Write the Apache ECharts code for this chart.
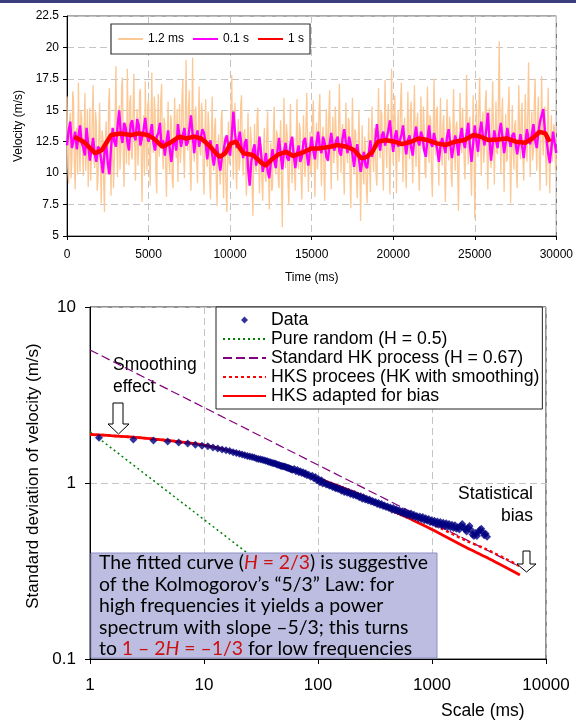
<!DOCTYPE html>
<html>
<head>
<meta charset="utf-8">
<script src="https://cdn.jsdelivr.net/npm/echarts@6.0.0/dist/echarts.min.js"></script>
<style>
html, body { margin: 0; padding: 0; background: #fff; }
#main { width: 576px; height: 722px; }
</style>
</head>
<body>
<div id="main"></div>
<script>
var FONT = "'Liberation Sans', Arial, sans-serif";

// ---- top chart: velocity series ----
// 1.2 ms record, read every 50 ms
var fineStep = 50;
var fineVel = [
  16.1, 10.5, 9.2, 13.9, 14.8, 9.6, 11.0, 16.5, 15.9, 10.8, 8.7, 12.9, 13.6, 9.9, 17.2, 12.2, 10.1, 15.0, 14.3, 11.5,
  9.8, 13.3, 16.4, 10.2, 12.0, 15.1, 8.9, 11.7, 15.2, 9.4, 11.3, 14.6, 17.0, 11.1, 10.4, 14.9, 13.9, 8.6, 9.5, 12.7,
  15.6, 10.9, 7.6, 13.4, 12.8, 9.1, 6.9, 12.3, 14.1, 10.6, 9.9, 15.3, 16.8, 11.4, 8.2, 13.0, 12.4, 8.8, 10.7, 14.5,
  18.5, 12.6, 9.7, 14.2, 15.4, 10.3, 11.9, 16.9, 17.6, 11.2, 8.9, 13.5, 14.0, 10.7, 18.3, 12.9, 10.6, 15.7, 16.2, 11.4,
  11.1, 14.8, 17.9, 12.3, 9.4, 13.6, 15.1, 10.6, 12.2, 16.4, 16.7, 11.8, 7.7, 12.1, 14.6, 9.8, 17.3, 13.2, 10.2, 15.4,
  15.8, 11.0, 9.0, 14.1, 18.0, 12.7, 11.6, 16.1, 14.9, 10.1, 8.4, 13.8, 16.3, 11.3, 12.5, 15.9, 17.1, 12.0, 10.3, 14.4,
  13.9, 10.4, 8.1, 12.8, 15.7, 11.0, 10.0, 14.6, 14.2, 9.5, 8.8, 13.0, 16.0, 12.4, 11.2, 15.1, 9.3, 12.2, 15.5, 10.8,
  12.1, 15.9, 17.4, 11.5, 9.6, 14.0, 19.0, 13.3, 11.8, 15.2, 16.6, 10.4, 8.6, 13.1, 19.2, 12.7, 10.9, 14.7, 15.3, 11.3,
  9.2, 13.5, 16.9, 11.9, 11.4, 15.6, 14.7, 10.2, 8.3, 12.6, 15.9, 11.5, 10.5, 14.9, 13.8, 9.4, 7.9, 12.3, 16.1, 11.7,
  10.2, 13.6, 14.4, 9.8, 7.4, 12.0, 13.1, 10.3, 9.1, 14.2, 15.0, 11.1, 8.0, 12.9, 12.6, 8.8, 6.9, 11.4, 14.1, 10.7,
  11.3, 15.0, 17.8, 12.5, 9.5, 13.9, 15.6, 11.0, 8.7, 12.4, 14.3, 10.2, 11.0, 15.4, 16.2, 12.1, 9.8, 13.1, 13.5, 10.6,
  8.2, 12.0, 14.8, 10.9, 9.6, 13.7, 12.7, 9.0, 6.6, 11.2, 13.9, 10.5, 10.1, 14.4, 15.2, 11.6, 8.4, 12.1, 12.3, 9.4,
  7.8, 11.6, 13.6, 9.7, 9.3, 13.2, 14.9, 10.8, 7.1, 10.9, 12.4, 8.6, 8.9, 12.8, 15.3, 11.4, 9.9, 13.4, 13.0, 9.5,
  8.8, 12.5, 14.2, 9.6, 5.7, 11.3, 16.0, 12.0, 10.4, 13.9, 13.1, 9.3, 7.5, 11.8, 15.5, 11.1, 9.2, 12.6, 12.8, 9.9,
  8.6, 12.3, 15.9, 11.0, 10.3, 14.0, 13.4, 9.7, 7.9, 11.6, 14.6, 10.5, 9.7, 13.8, 16.4, 12.2, 8.5, 11.9, 13.3, 10.0,
  10.6, 14.1, 15.8, 11.4, 8.1, 12.2, 14.0, 10.3, 11.5, 15.0, 16.3, 12.1, 9.0, 12.9, 13.7, 10.4, 7.8, 11.8, 15.1, 12.4,
  10.9, 14.5, 16.6, 12.0, 8.7, 12.5, 14.5, 10.8, 11.7, 15.3, 15.4, 11.2, 9.4, 13.6, 17.1, 12.9, 10.0, 13.3, 13.9, 10.6,
  8.3, 12.2, 15.6, 11.8, 10.8, 14.4, 14.1, 9.9, 7.2, 11.5, 16.0, 12.3, 9.9, 13.5, 13.2, 9.6, 8.0, 12.0, 15.0, 11.1,
  6.2, 10.6, 13.8, 9.9, 9.1, 12.9, 12.2, 8.9, 7.6, 11.3, 14.4, 10.5, 8.5, 12.4, 15.3, 11.5, 10.1, 13.6, 12.9, 9.7,
  9.0, 13.2, 16.8, 12.4, 11.2, 15.0, 14.7, 10.5, 8.6, 12.8, 17.4, 13.1, 10.4, 14.2, 15.5, 11.6, 8.3, 12.5, 18.3, 13.4,
  10.7, 14.6, 16.2, 11.8, 8.4, 12.7, 15.0, 10.9, 11.8, 15.6, 17.2, 12.6, 9.3, 13.4, 14.4, 10.5, 8.8, 12.9, 16.5, 12.2,
  11.1, 14.9, 15.7, 11.3, 9.2, 13.6, 17.0, 12.8, 10.5, 14.0, 14.8, 10.6, 8.6, 12.7, 16.1, 12.4, 11.9, 15.3, 13.7, 10.1,
  9.6, 13.8, 16.9, 12.5, 10.8, 14.6, 14.2, 10.0, 8.1, 12.3, 17.5, 13.1, 11.4, 15.0, 15.3, 11.2, 9.0, 13.0, 16.0, 12.0,
  10.6, 13.9, 14.6, 10.3, 7.7, 11.9, 15.9, 12.2, 11.0, 14.5, 13.8, 9.9, 8.9, 12.8, 16.7, 12.6, 10.2, 13.7, 14.1, 10.4,
  7.0, 11.8, 16.4, 12.7, 11.6, 15.2, 15.1, 11.0, 9.5, 13.6, 17.8, 13.0, 10.7, 14.1, 14.5, 10.6, 8.2, 12.4, 16.2, 12.1,
  6.4, 11.2, 15.8, 12.3, 11.3, 15.1, 17.6, 13.2, 9.8, 13.9, 14.9, 10.8, 12.0, 15.7, 16.6, 12.0, 8.7, 12.6, 15.2, 11.5,
  10.4, 14.3, 17.3, 12.9, 9.1, 13.0, 15.7, 11.7, 11.5, 15.5, 20.5, 13.8, 10.0, 13.9, 16.0, 11.9, 8.5, 12.5, 14.7, 10.9,
  11.2, 15.0, 16.9, 12.2, 7.6, 11.4, 15.4, 12.0, 10.3, 13.8, 14.2, 10.1, 8.8, 12.9, 17.0, 13.1, 11.1, 14.6, 15.6, 11.3,
  9.4, 13.1, 16.3, 12.6, 10.9, 14.7, 18.8, 13.5, 9.7, 13.3, 14.9, 11.0, 11.8, 15.6, 17.5, 12.8, 10.2, 14.0, 16.1, 11.6,
  8.6, 12.9, 17.7, 13.3, 11.4, 14.9, 15.3, 11.1, 9.0, 13.2, 16.8, 12.4, 8.4, 12.3, 14.6, 10.9, 10.8, 13.9, 13.4, 10.2,
  12.0
];

// 0.1 s averages, read every 100 ms
var midStep = 100;
var midVel = [
  12.2, 13.4, 14.1, 12.0, 12.6, 13.3, 11.9, 12.9, 13.8, 12.4,
  12.0, 11.4, 13.6, 12.3, 11.0, 11.8, 12.8, 11.5, 10.9, 12.1,
  11.9, 11.0, 10.0, 11.6, 12.4, 10.8, 9.9, 12.0, 13.6, 12.5,
  12.1, 13.7, 15.0, 13.1, 12.4, 14.0, 13.6, 12.5, 11.8, 13.9,
  14.2, 13.0, 12.6, 14.3, 13.8, 12.2, 12.1, 13.5, 14.4, 13.0,
  12.5, 13.1, 13.9, 12.4, 11.8, 12.9, 13.2, 14.0, 12.0, 12.6,
  11.4, 12.5, 13.4, 11.9, 10.9, 12.2, 12.7, 11.8, 13.9, 12.9,
  12.1, 13.0, 13.6, 12.2, 12.4, 13.5, 14.6, 13.1, 11.6, 12.8,
  13.4, 12.1, 12.0, 13.5, 13.2, 12.4, 11.1, 12.2, 12.6, 11.5,
  10.6, 11.5, 12.3, 11.0, 10.2, 11.3, 11.8, 12.6, 13.0, 12.0,
  11.4, 13.0, 14.9, 13.2, 12.0, 12.6, 13.3, 12.1, 11.2, 12.4,
  12.7, 10.4, 9.0, 10.9, 11.8, 12.3, 10.6, 11.4, 12.9, 11.6,
  10.1, 10.8, 11.6, 10.2, 9.6, 10.9, 11.9, 11.0, 10.4, 11.7,
  12.8, 11.5, 10.3, 11.7, 12.4, 11.2, 11.0, 12.3, 12.9, 11.4,
  10.4, 11.6, 12.2, 10.9, 11.3, 12.5, 12.8, 11.5, 10.6, 11.9,
  12.9, 11.8, 11.1, 12.4, 13.3, 12.0, 11.6, 12.9, 12.4, 11.3,
  11.0, 12.3, 13.2, 12.1, 11.8, 12.6, 12.9, 11.7, 11.4, 12.8,
  13.5, 12.4, 11.6, 12.9, 12.8, 11.5, 10.5, 11.6, 12.3, 11.1,
  10.1, 10.9, 11.7, 10.6, 10.4, 11.5, 12.6, 11.3, 11.2, 12.5,
  13.9, 12.6, 11.8, 13.0, 13.3, 12.2, 12.1, 13.4, 14.2, 12.7,
  11.7, 12.9, 13.4, 12.1, 12.0, 13.0, 13.8, 12.5, 11.5, 12.6,
  13.0, 12.0, 11.4, 12.8, 13.7, 12.6, 12.2, 13.3, 12.9, 11.8,
  11.3, 12.7, 13.8, 12.4, 12.1, 13.2, 13.1, 11.9, 10.9, 12.2,
  12.8, 12.2, 11.6, 12.9, 13.5, 12.3, 11.2, 12.1, 13.0, 12.4,
  11.4, 12.8, 13.6, 12.5, 12.0, 13.1, 14.0, 12.2, 10.9, 12.3,
  13.8, 12.6, 11.7, 13.2, 14.1, 12.9, 12.2, 13.4, 14.8, 12.7,
  11.0, 12.3, 13.4, 12.6, 12.0, 13.2, 14.0, 12.8, 11.6, 12.5,
  13.6, 12.7, 12.1, 13.0, 13.2, 12.4, 11.5, 12.3, 13.1, 12.2,
  11.2, 12.4, 13.5, 12.7, 12.3, 13.1, 13.9, 12.6, 12.0, 13.2,
  14.1, 14.6, 15.1, 13.4, 12.7, 11.6, 10.8, 12.0, 13.3, 12.4,
  11.6
];

// 1 s moving average
var slowTime = [451, 1015, 1737, 2143, 2707, 3271, 3947, 4398, 4962, 5300,
  5865, 6429, 6880, 7331, 7782, 8233, 8684, 9135, 9361, 9700,
  10038, 10376, 10602, 10827, 11391, 11955, 12180, 12519, 12970, 13421,
  13872, 14549, 15000, 15451, 16128, 16579, 17143, 17594, 18045, 18383,
  18722, 19060, 19511, 20075, 20526, 21090, 21541, 22105, 22669, 23233,
  23797, 24361, 24925, 25376, 25827, 26391, 26955, 27519, 28083, 28534,
  28985, 29323, 29594];
var slowVel = [12.89, 12.5, 11.58, 11.84, 13.03, 13.16, 13.03, 13.16, 13.03, 12.76,
  12.1, 12.5, 12.9, 12.76, 12.9, 12.76, 12.24, 11.58, 11.3, 11.58,
  12.37, 12.5, 11.97, 11.58, 11.45, 10.79, 10.6, 11.05, 11.5, 11.7,
  11.37, 11.7, 11.97, 11.97, 12.1, 12.24, 12.1, 11.84, 11.18, 11.3,
  11.7, 12.5, 12.63, 12.5, 12.31, 12.5, 12.76, 12.63, 12.37, 12.24,
  12.5, 12.63, 13.03, 12.9, 12.63, 12.68, 12.76, 12.5, 12.42, 12.76,
  13.29, 13.16, 12.5];

var velTicks = [5, 22.5, 2.5];      // min, max, step
var timeTicks = [0, 30000, 5000];

// ---- bottom chart: standard deviation vs scale ----
var dataScale = [1.2, 2.4, 3.6, 4.8, 6, 7.2, 8.4, 9.6, 10.8, 12,
  13.2, 14.4, 15.6, 16.8, 18, 19.2, 20.4, 21.6, 22.8, 24,
  25.2, 26.4, 27.6, 28.8, 30, 31.2, 32.4, 33.6, 34.8, 36,
  37.2, 38.4, 39.6, 40.8, 42, 43.2, 44.4, 45.6, 46.8, 48,
  49.2, 50.4, 51.6, 52.8, 54, 55.2, 56.4, 57.6, 58.8, 60,
  62, 64, 66, 68, 70, 72, 74, 76, 78, 80,
  83, 86, 89, 92, 95, 98, 101, 104, 107, 110,
  114, 118, 122, 126, 130, 134, 138, 142, 146, 150,
  155, 160, 165, 170, 175, 180, 186, 192, 198, 204,
  210, 216, 223, 230, 237, 244, 251, 259, 267, 275,
  283, 292, 301, 310, 320, 330, 340, 350, 361, 372,
  383, 395, 407, 419, 432, 445, 458, 472, 486, 501,
  516, 532, 548, 564, 581, 599, 617, 635, 654, 674,
  694, 715, 737, 759, 782, 805, 830, 855, 880, 907,
  934, 962, 991, 1020, 1050, 1082, 1115, 1148, 1183, 1218,
  1255, 1292, 1331, 1371, 1412, 1455, 1498, 1543, 1590, 1637,
  1686, 1737, 1789, 1843, 1898, 1955, 2014, 2074, 2136, 2200,
  2266, 2334, 2404, 2476, 2551, 2627, 2706, 2787, 2871, 2957,
  3040];
var dataSigma = [1.81, 1.765, 1.745, 1.72, 1.70, 1.675, 1.65, 1.63, 1.615, 1.59,
  1.57, 1.55, 1.535, 1.52, 1.495, 1.48, 1.465, 1.45, 1.44, 1.425,
  1.415, 1.405, 1.395, 1.38, 1.37, 1.365, 1.355, 1.345, 1.34, 1.33,
  1.315, 1.31, 1.30, 1.295, 1.29, 1.28, 1.27, 1.265, 1.255, 1.25,
  1.245, 1.24, 1.235, 1.225, 1.22, 1.215, 1.21, 1.20, 1.195, 1.19,
  1.20, 1.165, 1.185, 1.15, 1.165, 1.14, 1.15, 1.125, 1.135, 1.105,
  1.115, 1.085, 1.10, 1.065, 1.08, 1.035, 1.05, 1.01, 1.035, 0.995,
  1.005, 0.98, 0.985, 0.965, 0.97, 0.95, 0.955, 0.935, 0.94, 0.925,
  0.93, 0.905, 0.915, 0.89, 0.90, 0.88, 0.89, 0.865, 0.875, 0.855,
  0.865, 0.845, 0.85, 0.83, 0.84, 0.815, 0.83, 0.805, 0.815, 0.795,
  0.805, 0.785, 0.79, 0.775, 0.78, 0.76, 0.77, 0.75, 0.76, 0.74,
  0.745, 0.73, 0.735, 0.72, 0.725, 0.705, 0.72, 0.70, 0.71, 0.69,
  0.70, 0.68, 0.69, 0.67, 0.685, 0.66, 0.67, 0.655, 0.67, 0.645,
  0.66, 0.64, 0.65, 0.63, 0.645, 0.625, 0.64, 0.615, 0.63, 0.61,
  0.625, 0.60, 0.615, 0.595, 0.61, 0.585, 0.605, 0.58, 0.60, 0.575,
  0.595, 0.57, 0.59, 0.565, 0.585, 0.56, 0.58, 0.555, 0.575, 0.55,
  0.56, 0.545, 0.57, 0.585, 0.56, 0.545, 0.53, 0.555, 0.57, 0.54,
  0.51, 0.50, 0.52, 0.50, 0.525, 0.54, 0.55, 0.525, 0.505, 0.515,
  0.495];

var randomScale = [1, 384];
var randomSigma = [1.96, 0.1];
var hkScale = [1, 5600];
var hkSigma = [5.7, 0.34];
var hksScale = [1, 2.4, 5, 10, 22, 50, 100, 220, 400, 680, 1000, 2000, 3000, 6000];
var hksSigma = [1.89, 1.82, 1.74, 1.64, 1.46, 1.25, 1.06, 0.875, 0.735, 0.645, 0.585, 0.47, 0.42, 0.335];
var biasScale = [1, 2.4, 5, 10, 22, 50, 100, 220, 400, 680, 1000, 2000, 3000, 5900];
var biasSigma = [1.89, 1.82, 1.74, 1.64, 1.46, 1.25, 1.06, 0.87, 0.72, 0.615, 0.545, 0.43, 0.378, 0.30];

function pairsStep(vals, step) {
  return vals.map(function (v, i) { return [i * step, v]; });
}
function pairs(xs, ys) {
  return xs.map(function (x, i) { return [x, ys[i]]; });
}
function plain(v) { return String(+v.toPrecision(6)); }

var chart = echarts.init(document.getElementById('main'), null, { renderer: 'canvas' });

var gridLine = { show: true, lineStyle: { color: '#c4c4c4', type: [7, 4], width: 1 } };
var noMark = { opacity: 0 };

var option = {
  animation: false,
  backgroundColor: '#fff',
  textStyle: { fontFamily: FONT },
  grid: [
    { left: 67, top: 16, width: 490, height: 220, show: true, borderColor: '#555', borderWidth: 1, backgroundColor: 'transparent' },
    { left: 90, top: 307, width: 456, height: 352, show: true, borderColor: '#222', borderWidth: 1, backgroundColor: 'transparent' }
  ],
  xAxis: [
    {
      gridIndex: 0, type: 'value', min: timeTicks[0], max: timeTicks[1], interval: timeTicks[2],
      name: 'Time (ms)', nameLocation: 'middle', nameGap: 36,
      nameTextStyle: { fontSize: 12, color: '#000', fontFamily: FONT },
      axisLine: { lineStyle: { color: '#000' } },
      axisTick: { inside: false, length: 4, lineStyle: { color: '#000' } },
      axisLabel: { fontSize: 12, color: '#000', margin: 13, fontFamily: FONT, formatter: plain },
      splitLine: gridLine
    },
    {
      gridIndex: 1, type: 'log', logBase: 10, min: 1, max: 10000,
      axisLine: { lineStyle: { color: '#000' } },
      axisTick: { inside: false, length: 5, lineStyle: { color: '#000' } },
      axisLabel: { fontSize: 17, color: '#000', margin: 18, fontFamily: FONT, formatter: plain },
      minorTick: { show: false },
      splitLine: gridLine
    }
  ],
  yAxis: [
    {
      gridIndex: 0, type: 'value', min: velTicks[0], max: velTicks[1], interval: velTicks[2],
      name: 'Velocity (m/s)', nameLocation: 'middle', nameGap: 42, nameRotate: 90,
      nameTextStyle: { fontSize: 12, color: '#000', fontFamily: FONT },
      axisLine: { show: true, lineStyle: { color: '#000' } },
      axisTick: { show: true, inside: false, length: 4, lineStyle: { color: '#000' } },
      axisLabel: { fontSize: 12, color: '#000', margin: 8, fontFamily: FONT, formatter: plain },
      splitLine: gridLine
    },
    {
      gridIndex: 1, type: 'log', logBase: 10, min: 0.1, max: 10,
      axisLine: { show: true, lineStyle: { color: '#000' } },
      axisTick: { show: true, inside: false, length: 5, lineStyle: { color: '#000' } },
      axisLabel: { fontSize: 17, color: '#000', margin: 14, fontFamily: FONT, formatter: plain },
      splitLine: gridLine
    }
  ],
  legend: [
    {
      left: 111, top: 24, orient: 'horizontal',
      padding: [9, 6, 9, 6], itemGap: 8, itemWidth: 25, itemHeight: 10,
      borderColor: '#333', borderWidth: 1.2, backgroundColor: '#fff',
      textStyle: { fontSize: 12, color: '#000', fontFamily: FONT },
      data: [
        { name: '1.2 ms', itemStyle: noMark },
        { name: '0.1 s', itemStyle: noMark },
        { name: '1 s', itemStyle: noMark }
      ]
    },
    {
      left: 216, top: 307, orient: 'vertical',
      padding: [4, 3, 4, 6], itemGap: 1, itemWidth: 43, itemHeight: 14,
      borderColor: '#222', borderWidth: 1, backgroundColor: '#fff',
      textStyle: { fontSize: 17.7, lineHeight: 16, color: '#000', fontFamily: FONT },
      data: [
        { name: 'Data', icon: 'path://M0,0M43,14M21.5,3.5L25,7L21.5,10.5L18,7Z' },
        { name: 'Pure random (H = 0.5)', itemStyle: noMark },
        { name: 'Standard HK process (H = 0.67)', itemStyle: noMark },
        { name: 'HKS procees (HK with smoothing)', itemStyle: noMark },
        { name: 'HKS adapted for bias', itemStyle: noMark }
      ]
    }
  ],
  series: [
    {
      name: '1.2 ms', type: 'line', xAxisIndex: 0, yAxisIndex: 0, symbol: 'none',
      data: pairsStep(fineVel, fineStep),
      lineStyle: { color: '#fcc896', width: 1.3 }, itemStyle: { color: '#fcc896' }, z: 2
    },
    {
      name: '0.1 s', type: 'line', xAxisIndex: 0, yAxisIndex: 0, symbol: 'none',
      data: pairsStep(midVel, midStep),
      lineStyle: { color: '#ff00ff', width: 2.4 }, itemStyle: { color: '#ff00ff' }, z: 3
    },
    {
      name: '1 s', type: 'line', xAxisIndex: 0, yAxisIndex: 0, symbol: 'none',
      data: pairs(slowTime, slowVel),
      lineStyle: { color: '#ff0000', width: 4.5 }, itemStyle: { color: '#ff0000' }, z: 4
    },
    {
      name: 'Pure random (H = 0.5)', type: 'line', xAxisIndex: 1, yAxisIndex: 1, symbol: 'none',
      data: pairs(randomScale, randomSigma),
      lineStyle: { color: '#008000', width: 1.5, type: [2, 3] }, itemStyle: { color: '#008000' }, z: 2
    },
    {
      name: 'Standard HK process (H = 0.67)', type: 'line', xAxisIndex: 1, yAxisIndex: 1, symbol: 'none',
      data: pairs(hkScale, hkSigma),
      lineStyle: { color: '#800080', width: 1.2, type: [9, 4] }, itemStyle: { color: '#800080' }, z: 2
    },
    {
      name: 'HKS procees (HK with smoothing)', type: 'line', xAxisIndex: 1, yAxisIndex: 1, symbol: 'none',
      data: pairs(hksScale, hksSigma), smooth: 0.3,
      lineStyle: { color: '#ff0000', width: 2.5, type: [3, 3] }, itemStyle: { color: '#ff0000' }, z: 3
    },
    {
      name: 'HKS adapted for bias', type: 'line', xAxisIndex: 1, yAxisIndex: 1, symbol: 'none',
      data: pairs(biasScale, biasSigma), smooth: 0.3,
      lineStyle: { color: '#ff0000', width: 2.8 }, itemStyle: { color: '#ff0000' }, z: 3
    },
    {
      name: 'Data', type: 'scatter', xAxisIndex: 1, yAxisIndex: 1,
      symbol: 'diamond', symbolSize: 8,
      data: pairs(dataScale, dataSigma),
      itemStyle: { color: '#000080' }, z: 5
    }
  ],
  graphic: [
    { type: 'rect', left: 0, top: 0, shape: { width: 576, height: 3 }, style: { fill: '#3c3f7e' } },
    { type: 'text', x: 33, y: 476, rotation: Math.PI / 2,
      style: { text: 'Standard deviation of velocity (m/s)', font: '17px ' + FONT, fill: '#000', align: 'center', verticalAlign: 'middle' } },
    { type: 'text', left: 113, top: 356, style: { text: 'Smoothing', font: '17.5px ' + FONT, fill: '#000' } },
    { type: 'text', left: 113, top: 378, style: { text: 'effect', font: '17.5px ' + FONT, fill: '#000' } },
    { type: 'polygon', shape: { points: [[113, 403], [123, 403], [123, 424], [129, 424], [118.5, 434], [108, 424], [113, 424]] },
      style: { fill: '#fff', stroke: '#000', lineWidth: 1 }, z: 10 },
    { type: 'text', right: 576 - 533, top: 485, style: { text: 'Statistical', font: '17.5px ' + FONT, fill: '#000', align: 'right' } },
    { type: 'text', right: 576 - 533, top: 507, style: { text: 'bias', font: '17.5px ' + FONT, fill: '#000', align: 'right' } },
    { type: 'polygon', shape: { points: [[523, 551], [530, 551], [530, 564], [536, 564], [526.5, 572], [517, 564], [523, 564]] },
      style: { fill: '#fff', stroke: '#000', lineWidth: 1 }, z: 10 },
    { type: 'rect', shape: { x: 91, y: 553, width: 346, height: 105 },
      style: { fill: '#bcbde0', stroke: '#8e8fc4', lineWidth: 1 }, z: 20 },
    { type: 'text', left: 99, top: 552, z: 21,
      style: {
        text: 'The fitted curve ({ri|H}{r| = 2/3}) is suggestive\n' +
              'of the Kolmogorov\u2019s \u201c5/3\u201d Law: for\n' +
              'high frequencies it yields a power\n' +
              'spectrum with slope \u20135/3; this turns\n' +
              'to {r|1 \u2013 2}{ri|H}{r| = \u20131/3} for low frequencies',
        font: '19.4px Lato, sans-serif', fill: '#000', lineHeight: 21.5,
        rich: {
          r: { fill: '#cc1111', font: '19.4px Lato, sans-serif', lineHeight: 21.5 },
          ri: { fill: '#cc1111', font: 'italic 19.4px Lato, sans-serif', lineHeight: 21.5 }
        }
      }
    },
    { type: 'text', left: 441, top: 702, style: { text: 'Scale (ms)', font: '17.5px ' + FONT, fill: '#000' } }
  ]
};

chart.setOption(option);
</script>
</body>
</html>
